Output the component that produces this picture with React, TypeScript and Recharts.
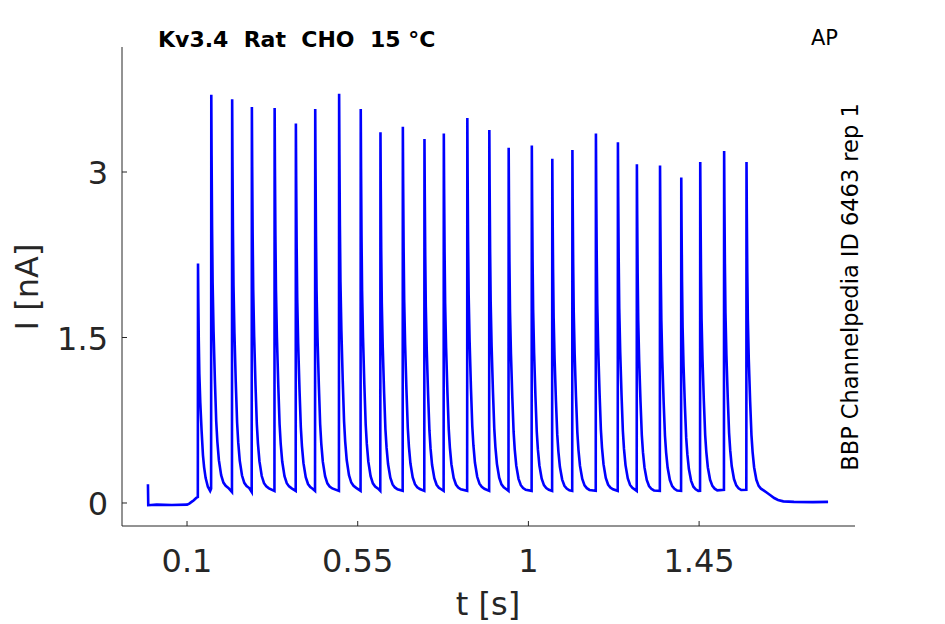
import { LineChart, Line, XAxis, YAxis } from 'recharts'

// values (t in s, current in nA)
const preTimes  = [-0.003, -0.0022, 0.02, 0.06, 0.1, 0.106, 0.112, 0.118, 0.124, 0.1285]
const preValues = [0.17, -0.02, -0.015, -0.018, -0.015, -0.005, 0.01, 0.025, 0.045, 0.055]

const spikeTimes = [
  0.129, 0.164, 0.219, 0.271, 0.331, 0.387, 0.438, 0.501, 0.558, 0.610,
  0.669, 0.726, 0.777, 0.839, 0.897, 0.948, 1.009, 1.063, 1.116, 1.178,
  1.236, 1.286, 1.347, 1.403, 1.453, 1.516, 1.575,
]
const spikePeaks = [
  2.17, 3.70, 3.66, 3.59, 3.58, 3.44, 3.57, 3.71, 3.57, 3.36,
  3.41, 3.30, 3.35, 3.49, 3.38, 3.22, 3.24, 3.12, 3.20, 3.35,
  3.27, 3.07, 3.06, 2.95, 3.09, 3.19, 3.09,
]
// current just before the next spike
const troughs = [
  0.13, 0.1, 0.1, 0.11, 0.11, 0.11, 0.11, 0.11, 0.11, 0.11,
  0.11, 0.11, 0.11, 0.11, 0.11, 0.11, 0.11, 0.11, 0.11, 0.11,
  0.11, 0.11, 0.11, 0.11, 0.12, 0.12,
]
// decay after a peak, as fraction of the peak, read from one spike
const decayOffsets   = [0.0008, 0.002, 0.0035, 0.006, 0.0095, 0.013, 0.016, 0.02, 0.026, 0.032, 0.038, 0.045]
const decayFractions = [0.85, 0.68, 0.54, 0.42, 0.3, 0.2, 0.15, 0.105, 0.068, 0.05, 0.042, 0.037]

// slow return to baseline after the last spike
const tailTimes  = [1.628, 1.638, 1.648, 1.658, 1.672, 1.7, 1.75, 1.79]
const tailValues = [0.095, 0.07, 0.045, 0.028, 0.015, 0.01, 0.008, 0.01]

const xTicks = [0.1, 0.55, 1, 1.45]
const yTicks = [0, 1.5, 3]

const points: { t: number; v: number }[] = []
preTimes.forEach((t, i) => points.push({ t, v: preValues[i] }))
spikeTimes.forEach((ts, i) => {
  const peak = spikePeaks[i]
  const next = spikeTimes[i + 1]
  points.push({ t: ts, v: peak })
  decayOffsets.forEach((off, j) => {
    if (next == null || ts + off < next - 0.002) points.push({ t: ts + off, v: peak * decayFractions[j] })
  })
  if (next != null) points.push({ t: next - 0.0005, v: troughs[i] })
})
tailTimes.forEach((t, i) => points.push({ t, v: tailValues[i] }))

const axisColor = '#262626'
const font = 'DejaVu Sans, sans-serif'

function XTick({ x, y, payload }: any) {
  return (
    <g>
      <line x1={x} x2={x} y1={y} y2={y - 5} stroke={axisColor} />
      <text x={x} y={y + 46} textAnchor="middle" fontSize={32} fill={axisColor} fontFamily={font}>
        {String(payload.value)}
      </text>
    </g>
  )
}

function YTick({ x, y, payload }: any) {
  return (
    <g>
      <line x1={x} x2={x + 5} y1={y} y2={y} stroke={axisColor} />
      <text x={x - 14} y={y + 12} textAnchor="end" fontSize={32} fill={axisColor} fontFamily={font}>
        {String(payload.value)}
      </text>
    </g>
  )
}

export default function App() {
  return (
    <div style={{ position: 'absolute', left: 0, top: 0, width: 945, height: 624, background: '#fff' }}>
      <LineChart width={945} height={624} data={points} margin={{ top: 47, right: 90, bottom: 38, left: 0 }}>
        <XAxis
          dataKey="t" type="number" domain={[-0.0714, 1.861]} ticks={xTicks} interval={0}
          allowDataOverflow height={60} tickSize={0} tickMargin={0}
          stroke={axisColor} tick={<XTick />}
        />
        <YAxis
          type="number" domain={[-0.2085, 4.133]} ticks={yTicks} interval={0}
          allowDataOverflow width={122} tickSize={0} tickMargin={0}
          stroke={axisColor} tick={<YTick />}
        />
        <Line
          dataKey="v" type="linear" stroke="#0000ff" strokeWidth={2.6}
          dot={false} activeDot={false} isAnimationActive={false}
        />
      </LineChart>
      <svg width={945} height={624} style={{ position: 'absolute', left: 0, top: 0, pointerEvents: 'none' }}>
        <text x={158} y={47} fontSize={22} fontWeight="bold" fontFamily={font} fill="#000"
          xmlSpace="preserve" style={{ whiteSpace: 'pre' }}>
          {'Kv3.4  Rat  CHO  15 °C'}
        </text>
        <text x={811} y={45} fontSize={21} fontFamily={font} fill="#000">AP</text>
        <text x={858} y={287} fontSize={22.5} fontFamily={font} fill="#000" textAnchor="middle"
          transform="rotate(-90 858 287)">
          BBP Channelpedia ID 6463 rep 1
        </text>
        <text x={38} y={287} fontSize={32} fontFamily={font} fill={axisColor} textAnchor="middle"
          transform="rotate(-90 38 287)">
          I [nA]
        </text>
        <text x={488} y={615} fontSize={32} fontFamily={font} fill={axisColor} textAnchor="middle">
          t [s]
        </text>
      </svg>
    </div>
  )
}
